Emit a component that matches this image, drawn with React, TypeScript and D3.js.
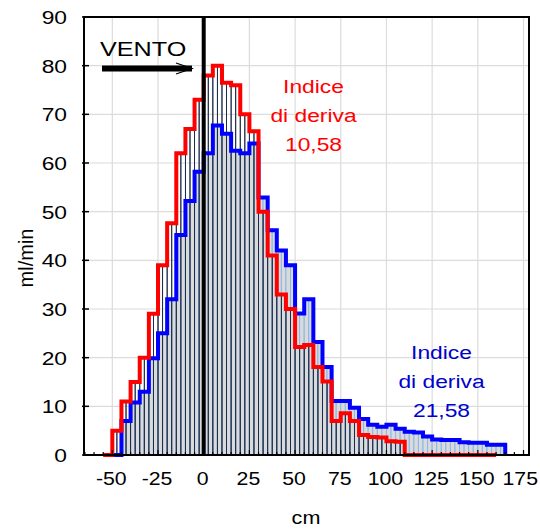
import * as d3 from "d3";

// bin edges every 5 cm; red starts at -55, blue at -50
const BIN = 5;
const RED_FROM = -55;
const BLUE_FROM = -50;
const RED_VALUES = [
  0, 5, 11, 15, 20, 29, 39, 47.6, 62, 67, 73,
  78, 80, 76.5, 76, 70, 66.5, 50, 41, 33, 30,
  22.2, 22.6, 18.1, 15.1, 7.0, 8.6, 7.0, 4.1, 3.7, 3.6,
  2.8, 2.7, 0, 0, 0, 0, 0, 0, 0, 0, 0, 0,
];
const BLUE_VALUES = [
  0, 7, 10.8, 13, 19.9, 25, 32, 45.2, 52.2, 58.2,
  62, 67.7, 66, 62.5, 62, 64, 52.9, 46.2, 42, 39,
  29.1, 32, 23.2, 18.1, 11.1, 11.1, 9.7, 7.4, 6.2, 5.8,
  6.2, 5.4, 4.8, 4.6, 3.8, 3.2, 3.1, 3.1, 2.6, 2.5, 2.5, 2.1, 2.1,
];
const X_TICKS = [-50, -25, 0, 25, 50, 75, 100, 125, 150, 175];
const Y_TICKS = [0, 10, 20, 30, 40, 50, 60, 70, 80, 90];
const RED_LABEL = ["Indice", "di deriva", "10,58"];
const BLUE_LABEL = ["Indice", "di deriva", "21,58"];

const W = 540;
const H = 531;
const FONT = "'Liberation Sans', Arial, sans-serif";
const SX = 1.2; // text in the reference is horizontally stretched

const x = d3.scaleLinear().domain([-65.5, 178]).range([84, 529]);
const y = d3.scaleLinear().domain([0, 90]).range([455, 17]);

type Pt = { e: number; v: number };

function toPoints(from: number, values: number[]): Pt[] {
  const pts: Pt[] = [{ e: from, v: 0 }];
  values.forEach((v, i) => pts.push({ e: from + i * BIN, v }));
  pts.push({ e: from + values.length * BIN, v: 0 });
  return pts;
}

const stepLine = d3
  .line<Pt>()
  .x((d) => x(d.e))
  .y((d) => y(d.v))
  .curve(d3.curveStepAfter);

function halves(from: number, values: number[]) {
  const out: { x0: number; v: number }[] = [];
  values.forEach((v, i) => {
    if (v <= 0) return;
    out.push({ x0: from + i * BIN, v });
    out.push({ x0: from + i * BIN + BIN / 2, v });
  });
  return out;
}

function Txt({
  x: tx,
  y: ty,
  children,
  size,
  fill = "#000",
  anchor = "middle",
  sx = SX,
}: {
  x: number;
  y: number;
  children: string;
  size: number;
  fill?: string;
  anchor?: string;
  sx?: number;
}) {
  return (
    <text
      transform={`translate(${tx},${ty}) scale(${sx},1)`}
      textAnchor={anchor}
      fontFamily={FONT}
      fontSize={size}
      fill={fill}
    >
      {children}
    </text>
  );
}

export default function App() {
  const [x0, x1] = x.range();
  const [yb, yt] = y.range();
  const minor = d3.range(-65, 178, 5);
  const halfW = x(BIN / 2) - x(0);

  return (
    <svg
      width={W}
      height={H}
      style={{ position: "absolute", left: 0, top: 0, background: "#fff" }}
    >
      {/* grid */}
      {X_TICKS.map((t) => (
        <line key={"gx" + t} x1={x(t)} x2={x(t)} y1={yt} y2={yb} stroke="#dcdcdc" strokeWidth={1.2} />
      ))}
      {Y_TICKS.slice(1, -1).map((t) => (
        <line key={"gy" + t} x1={x0} x2={x1} y1={y(t)} y2={y(t)} stroke="#dcdcdc" strokeWidth={1.2} />
      ))}

      {/* blue bars */}
      {halves(BLUE_FROM, BLUE_VALUES).map((b, i) => (
        <rect
          key={"bb" + i}
          x={x(b.x0)}
          y={y(b.v)}
          width={halfW}
          height={yb - y(b.v)}
          fill="#d9dadc"
          stroke="#8ab6e6"
          strokeWidth={1}
        />
      ))}
      {/* red bars (outline only) */}
      {halves(RED_FROM, RED_VALUES).map((b, i) => (
        <rect
          key={"rb" + i}
          x={x(b.x0)}
          y={y(b.v)}
          width={halfW}
          height={yb - y(b.v)}
          fill="none"
          stroke="#1b2a48"
          strokeWidth={0.9}
        />
      ))}

      <path d={stepLine(toPoints(BLUE_FROM, BLUE_VALUES)) ?? ""} fill="none" stroke="#0000ff" strokeWidth={4} />
      <path d={stepLine(toPoints(RED_FROM, RED_VALUES)) ?? ""} fill="none" stroke="#ff0000" strokeWidth={4} />

      {/* zero line */}
      <line x1={x(0)} x2={x(0)} y1={yt} y2={yb} stroke="#000" strokeWidth={4} />

      {/* frame + ticks */}
      <rect x={x0} y={yt} width={x1 - x0} height={yb - yt} fill="none" stroke="#000" strokeWidth={2} />
      {Y_TICKS.map((t) => (
        <line key={"ty" + t} x1={x0 - 2} x2={x0 + 5} y1={y(t)} y2={y(t)} stroke="#000" strokeWidth={1.5} />
      ))}
      {minor.map((t) => (
        <line
          key={"tx" + t}
          x1={x(t)}
          x2={x(t)}
          y1={yb}
          y2={yb - (t % 25 === 0 ? 5 : 3)}
          stroke="#000"
          strokeWidth={1.2}
        />
      ))}

      {/* tick labels */}
      {Y_TICKS.map((t) => (
        <Txt key={"ly" + t} x={67} y={y(t) + 7} size={19} anchor="end">
          {String(t)}
        </Txt>
      ))}
      {X_TICKS.map((t, i) => (
        <Txt
          key={"lx" + t}
          x={i === X_TICKS.length - 1 ? 538 : x(t) - 1}
          y={485}
          size={19}
          sx={1.12}
          anchor={i === X_TICKS.length - 1 ? "end" : "middle"}
        >
          {String(t)}
        </Txt>
      ))}

      {/* axis titles */}
      <Txt x={306} y={524} size={18}>cm</Txt>
      <text
        transform="translate(33,258) rotate(-90)"
        textAnchor="middle"
        fontFamily={FONT}
        fontSize={20}
      >
        ml/min
      </text>

      {/* wind annotation */}
      <Txt x={100} y={56} size={21} anchor="start">VENTO</Txt>
      <rect x={102} y={65.5} width={90} height={6} fill="#000" />
      <polyline points="176,63 192,68.5 176,74" fill="none" stroke="#000" strokeWidth={1.3} />

      {RED_LABEL.map((s, i) => (
        <Txt key={"rl" + i} x={313.5} y={93 + i * 29} size={19} fill="#ff0000">
          {s}
        </Txt>
      ))}
      {BLUE_LABEL.map((s, i) => (
        <Txt key={"bl" + i} x={441.5} y={359 + i * 29} size={19} fill="#0000cc">
          {s}
        </Txt>
      ))}
    </svg>
  );
}
